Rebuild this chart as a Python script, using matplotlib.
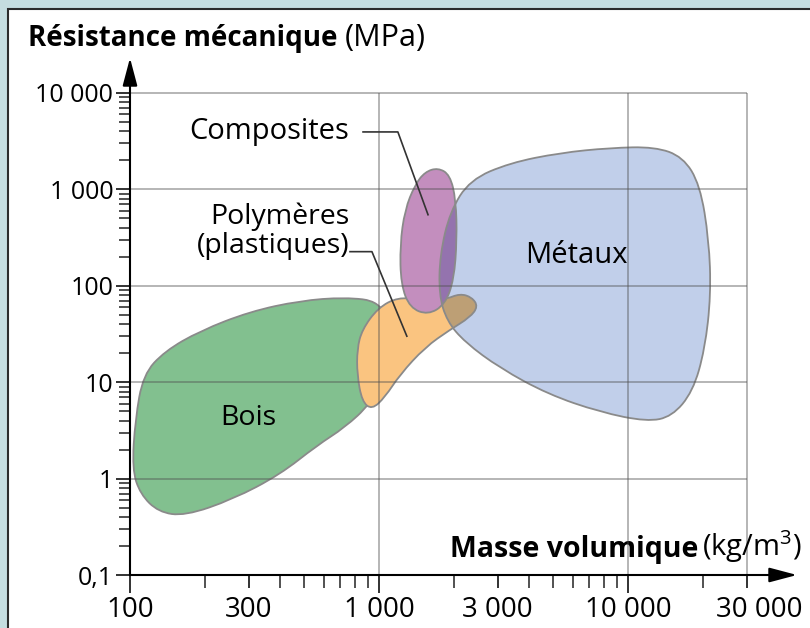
import numpy as np
import matplotlib
matplotlib.use("Agg")
import matplotlib.pyplot as plt
import matplotlib.colors as mcolors
import matplotlib.transforms as mtransforms
from matplotlib.path import Path
from matplotlib.patches import PathPatch, Rectangle
from matplotlib.ticker import FixedLocator, FixedFormatter, NullFormatter

plt.rcParams['font.family'] = ['Open Sans', 'DejaVu Sans']
plt.rcParams['mathtext.fontset'] = 'custom'
plt.rcParams['mathtext.rm'] = 'Open Sans'

# Contours des domaines : masse volumique (kg/m3) et résistance (MPa)
bois_masse = [102, 105, 113, 138, 191, 303, 482, 730, 1010, 1107, 1057, 920, 730, 563, 400, 259, 166, 130, 110]
bois_resist = [1.25, 4.1, 12, 21, 34, 54, 70, 76, 69, 35, 12, 5.9, 3.4, 2.2, 1.1, 0.61, 0.41, 0.45, 0.69]

polym_masse = [855, 991, 1191, 1462, 1842, 2115, 2362, 2500, 2319, 1928, 1531, 1215, 1057, 937, 855, 817, 817]
polym_resist = [35, 59, 76, 72, 72, 83, 76, 61, 47, 35, 23, 12, 7.0, 5.2, 6.3, 12, 22]

compo_masse = [1726, 1928, 2037, 2056, 2000, 1842, 1574, 1332, 1225, 1215, 1271, 1395, 1531]
compo_resist = [1675, 1416, 780, 300, 116, 64, 50, 59, 103, 267, 615, 1117, 1520]

metal_masse = [2319, 3357, 5333, 8472, 12830, 16630, 19470, 21150, 21540, 20370, 18230, 15020,
               11920, 7720, 4776, 3062, 2213, 1875, 1742, 1758, 1928]
metal_resist = [1256, 1884, 2392, 2697, 2763, 2175, 1117, 300, 81, 22, 8.0, 4.4,
                3.9, 4.9, 7.5, 14, 26, 43, 81, 210, 586]

# Axes
y_ticks = [0.1, 1, 10, 100, 1000, 10000]
y_labels = ["0,1", "1", "10", "100", "1 000", "10 000"]
x_ticks = [100, 300, 1000, 3000, 10000, 30000]
x_labels = ["100", "300", "1 000", "3 000", "10 000", "30 000"]
grid_y = [1, 10, 100, 1000, 10000]
grid_x = [1000, 10000, 30000]

VERT = "#82c08f"
ORANGE = "#fac480"
VIOLET = "#c38ebe"
BLEU = "#c1cfea"
CONTOUR = "#8a8a8a"


def contour_lisse(xs, ys):
    # courbe fermée (B-spline quadratique) en échelle log
    lx = np.log10(xs)
    ly = np.log10(ys)
    n = len(lx)
    verts = [(10 ** ((lx[-1] + lx[0]) / 2), 10 ** ((ly[-1] + ly[0]) / 2))]
    codes = [Path.MOVETO]
    for i in range(n):
        j = (i + 1) % n
        mid = (10 ** ((lx[i] + lx[j]) / 2), 10 ** ((ly[i] + ly[j]) / 2))
        verts.append((xs[i], ys[i]))
        verts.append(mid)
        codes += [Path.CURVE3, Path.CURVE3]
    verts.append(verts[0])
    codes.append(Path.CLOSEPOLY)
    return Path(verts, codes)


def multiplie(c1, c2):
    a = np.array(mcolors.to_rgb(c1))
    b = np.array(mcolors.to_rgb(c2))
    return tuple(a * b)


fig = plt.figure(figsize=(8.1, 6.28), dpi=100)
fig.patch.set_facecolor("#c5dde0")
fig.patches.append(Rectangle((8 / 810, -0.1), 1.1, 0.1 + (628 - 8.5) / 628,
                             transform=fig.transFigure, facecolor="white",
                             edgecolor="#2b2b2b", lw=1.5, zorder=-5))

ax = fig.add_axes([130 / 810, 53 / 628, 667 / 810, 517 / 628])
ax.set_xscale("log")
ax.set_yscale("log")
ax.set_xlim(100, 10 ** 4.679)
ax.set_ylim(0.1, 10 ** 4.363)
ax.patch.set_alpha(0)

p_bois = contour_lisse(bois_masse, bois_resist)
p_polym = contour_lisse(polym_masse, polym_resist)
p_compo = contour_lisse(compo_masse, compo_resist)
p_metal = contour_lisse(metal_masse, metal_resist)

ax.add_patch(PathPatch(p_bois, facecolor=VERT, edgecolor=CONTOUR, lw=1.3, zorder=1))
ax.add_patch(PathPatch(p_polym, facecolor=ORANGE, edgecolor=CONTOUR, lw=1.3, zorder=2))
ax.add_patch(PathPatch(p_compo, facecolor=VIOLET, edgecolor=CONTOUR, lw=1.3, zorder=3))
metal = PathPatch(p_metal, facecolor=BLEU, edgecolor="none", zorder=4)
ax.add_patch(metal)

# zones de recouvrement (effet produit)
ov1 = PathPatch(p_polym, facecolor=multiplie(ORANGE, BLEU), edgecolor=CONTOUR, lw=1.3, zorder=5)
ax.add_patch(ov1)
ov1.set_clip_path(metal)
ov2 = PathPatch(p_compo, facecolor=multiplie(VIOLET, BLEU), edgecolor=CONTOUR, lw=1.3, zorder=5)
ax.add_patch(ov2)
ov2.set_clip_path(metal)
ax.add_patch(PathPatch(p_metal, facecolor="none", edgecolor=CONTOUR, lw=1.3, zorder=6))

# grille
ax.hlines(grid_y, 100, 30000, colors="#505050", alpha=0.45, lw=1.3, zorder=7)
ax.vlines(grid_x, 0.1, 10000, colors="#505050", alpha=0.45, lw=1.3, zorder=7)

# axes avec flèches
for s in ax.spines.values():
    s.set_visible(False)
for fin in [(1, 0), (0, 1)]:
    ax.annotate("", xy=fin, xytext=(0, 0), xycoords="axes fraction",
                arrowprops=dict(arrowstyle="-|>,head_length=1.7,head_width=0.45",
                                mutation_scale=10, lw=1.5, color="black",
                                shrinkA=0, shrinkB=0), zorder=10)

y_minor = [m * 10.0 ** d for d in range(-1, 4) for m in range(2, 10)]
x_minor = [m * 10.0 ** d for d in range(2, 5) for m in range(2, 10)
           if m * 10.0 ** d <= 20000 and m != 3]

ax.yaxis.set_major_locator(FixedLocator(y_ticks))
ax.yaxis.set_major_formatter(FixedFormatter(y_labels))
ax.yaxis.set_minor_locator(FixedLocator(y_minor))
ax.yaxis.set_minor_formatter(NullFormatter())
ax.xaxis.set_major_locator(FixedLocator(x_ticks))
ax.xaxis.set_major_formatter(FixedFormatter(x_labels))
ax.xaxis.set_minor_locator(FixedLocator(x_minor))
ax.xaxis.set_minor_formatter(NullFormatter())

ax.tick_params(axis="y", which="major", direction="out", length=10, width=1.3,
               color="#222222", labelsize=18, pad=2)
ax.tick_params(axis="y", which="minor", direction="out", length=8, width=1.1, color="#222222")
ax.tick_params(axis="x", which="major", direction="out", length=13, width=1.3,
               color="#222222", labelsize=20, pad=2)
ax.tick_params(axis="x", which="minor", direction="out", length=9, width=1.1, color="#222222")
for i, t in enumerate(ax.xaxis.get_major_ticks()):
    if x_labels[i] in ("300", "3 000", "30 000"):
        t.tick1line.set_markersize(9)

# le dernier libellé est décalé vers la droite
decal = mtransforms.ScaledTranslation(0.13, 0, fig.dpi_scale_trans)
lab = ax.get_xticklabels()[-1]
lab.set_transform(lab.get_transform() + decal)

# étiquettes
ax.text(6180, 206, "Métaux", fontsize=21, ha="center", va="center", zorder=11)
ax.text(298, 4.3, "Bois", fontsize=20.5, ha="center", va="center", zorder=11)
ax.text(361, 3945, "Composites", fontsize=21, ha="center", va="center", zorder=11)
ax.text(760, 370, "Polymères\n(plastiques)", fontsize=20.5, ha="right", va="center",
        multialignment="right", linespacing=1.05, zorder=11)

ax.plot([863, 1191, 1574], [3945, 3945, 546], color="#333333", lw=1.2, zorder=9)
ax.plot([765, 937, 1294], [226, 226, 30], color="#333333", lw=1.2, zorder=9)

# titres des axes
t1 = fig.text(28 / 810, 1 - 46 / 628, "Résistance mécanique", fontsize=20,
              fontweight="bold", va="baseline", ha="left")
ax.annotate("(MPa)", xy=(1, 0), xycoords=t1, xytext=(5, 0), textcoords="offset points",
            fontsize=22, va="bottom", ha="left", annotation_clip=False)

t2 = fig.text(802 / 810, 1 - 556 / 628, "(kg/m$^3$)", fontsize=21, va="baseline", ha="right")
ax.annotate("Masse volumique", xy=(0, 0), xycoords=t2, xytext=(-3, 1),
            textcoords="offset points", fontsize=20.5, fontweight="bold",
            va="bottom", ha="right", annotation_clip=False)

fig.savefig("out.png", dpi=100, facecolor=fig.get_facecolor())
